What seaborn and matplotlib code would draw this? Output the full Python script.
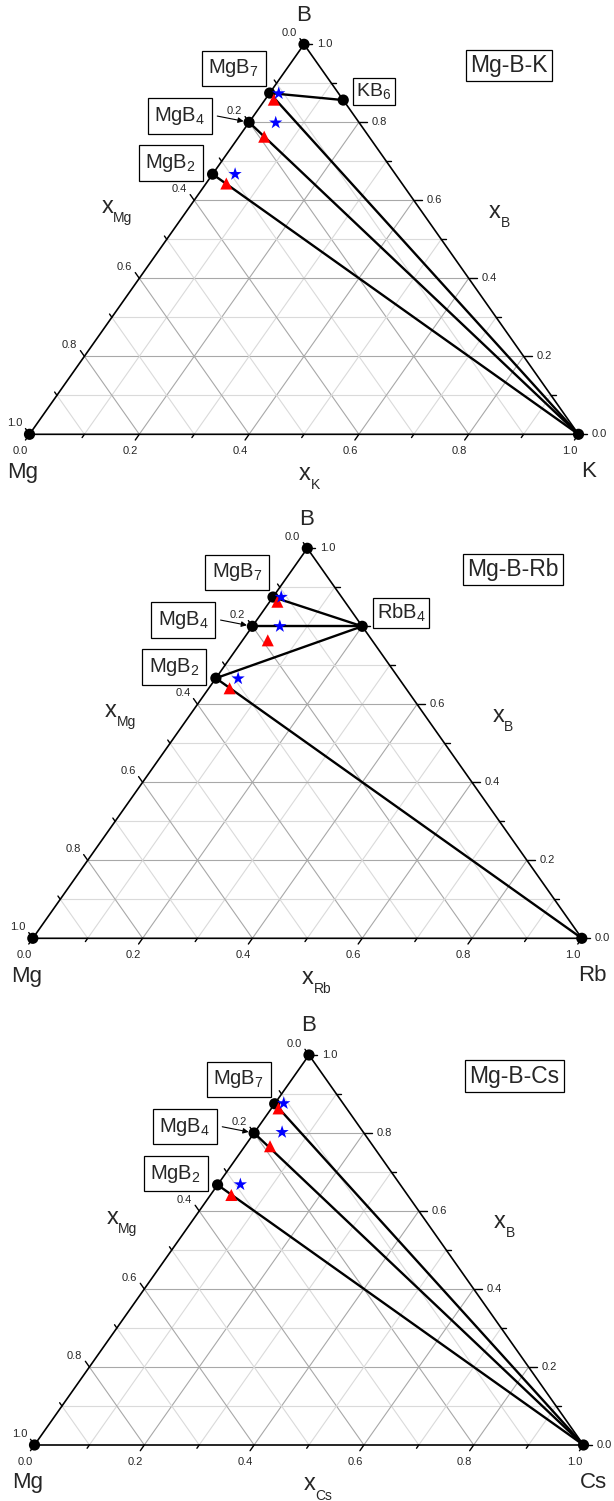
import numpy as np
import pandas as pd
import seaborn as sns
import matplotlib.pyplot as plt

sns.set_style('white')
plt.rcParams['font.family'] = ['Liberation Sans', 'DejaVu Sans']
plt.rcParams['mathtext.fontset'] = 'custom'
plt.rcParams['mathtext.rm'] = 'Liberation Sans'
plt.rcParams['mathtext.it'] = 'Liberation Sans:italic'
plt.rcParams['mathtext.bf'] = 'Liberation Sans:bold'

# compositions are (x_B, x_alkali); x_Mg = 1 - x_B - x_alkali
metals = ['K', 'Rb', 'Cs']
mgb_names = ['MgB7', 'MgB4', 'MgB2']
mgb_labels = ['MgB$_7$', 'MgB$_4$', 'MgB$_2$']
mgb_xb = [0.875, 0.800, 0.667]

alk_names = {'K': 'KB6', 'Rb': 'RbB4'}
alk_labels = {'K': 'KB$_6$', 'Rb': 'RbB$_4$'}
alk_xb = {'K': 0.857, 'Rb': 0.800}
alk_xm = {'K': 0.143, 'Rb': 0.200}

# blue stars
star_xb_k = [0.874, 0.799, 0.667]
star_xm_k = [0.017, 0.049, 0.041]
star_xb_rb = [0.875, 0.800, 0.666]
star_xm_rb = [0.015, 0.050, 0.041]
star_xb_cs = [0.876, 0.802, 0.668]
star_xm_cs = [0.016, 0.050, 0.041]

# red triangles
tri_xb_k = [0.858, 0.763, 0.643]
tri_xm_k = [0.016, 0.046, 0.037]
tri_xb_rb = [0.863, 0.764, 0.641]
tri_xm_rb = [0.014, 0.046, 0.038]
tri_xb_cs = [0.863, 0.766, 0.641]
tri_xm_cs = [0.013, 0.046, 0.038]

stars = {'K': (star_xb_k, star_xm_k), 'Rb': (star_xb_rb, star_xm_rb), 'Cs': (star_xb_cs, star_xm_cs)}
tris = {'K': (tri_xb_k, tri_xm_k), 'Rb': (tri_xb_rb, tri_xm_rb), 'Cs': (tri_xb_cs, tri_xm_cs)}

tie_lines = {
    'K': [('MgB7', 'KB6'), ('MgB7', 'K'), ('MgB4', 'K'), ('MgB2', 'K')],
    'Rb': [('MgB7', 'RbB4'), ('MgB4', 'RbB4'), ('MgB2', 'RbB4'), ('MgB2', 'Rb')],
    'Cs': [('MgB7', 'Cs'), ('MgB4', 'Cs'), ('MgB2', 'Cs')],
}

tick_vals = np.round(np.arange(0, 1.01, 0.1), 1)

W, H = 614, 1501
TW, TH = 549.0, 390.0
# triangle placement in pixels: left edge x, bottom y (from top)
panel_pos = [(29.5, 434.3), (32.8, 938.3), (34.5, 1445.0)]


def xy(xb, xm):
    return xm + xb / 2.0, xb


def px(dx, dy):
    # pixel offset -> data offset
    return dx / TW, dy / TH


def axis_title(ax, x, y, sub):
    ax.text(x, y, 'x', fontsize=17, ha='center', va='center')
    ax.annotate(sub, xy=(x, y), xytext=(4.2, -8), textcoords='offset points',
                fontsize=10, ha='left', va='center', annotation_clip=False)


fig = plt.figure(figsize=(W / 100, H / 100), dpi=100)

for metal, (left, bottom) in zip(metals, panel_pos):
    ax = fig.add_axes([left / W, (H - bottom) / H, TW / W, TH / H])
    ax.set_xlim(0, 1)
    ax.set_ylim(0, 1)
    ax.axis('off')

    # grid
    for v in tick_vals[1:-1]:
        major = round(v * 10) % 2 == 0
        c = '#a8a8a8' if major else '#dadada'
        kw = dict(color=c, lw=0.8, zorder=1)
        ax.plot([v / 2, 1 - v / 2], [v, v], **kw)
        ax.plot([v, v + (1 - v) / 2], [0, 1 - v], **kw)
        ax.plot([1 - v, (1 - v) / 2], [0, 1 - v], **kw)

    ax.plot([0, 1, 0.5, 0], [0, 0, 1, 0], color='black', lw=1.2, zorder=3,
            clip_on=False, solid_joinstyle='miter')

    # ticks and tick labels
    dl = np.array([-0.5757, -0.8178])
    ul = np.array([-0.5757, 0.8178])
    for v in tick_vals:
        major = round(v * 10) % 2 == 0
        L = 7 if major else 4
        # bottom axis (alkali)
        bx, by = v, 0
        ox, oy = px(*(dl * L))
        ax.plot([bx, bx + ox], [by, by + oy], color='black', lw=1.0, clip_on=False, zorder=3)
        # left axis (Mg)
        lx, ly = (1 - v) / 2, 1 - v
        ox, oy = px(*(ul * L))
        ax.plot([lx, lx + ox], [ly, ly + oy], color='black', lw=1.0, clip_on=False, zorder=3)
        # right axis (B)
        rx, ry = 1 - v / 2, v
        ox, oy = px(L + 1, 0)
        ax.plot([rx, rx + ox], [ry, ry + oy], color='black', lw=1.0, clip_on=False, zorder=3)
        if major:
            s = f'{v:.1f}'
            ox, oy = px(-9, -17)
            ax.text(bx + ox, by + oy, s, fontsize=8, ha='center', va='center')
            ox, oy = px(-7, 11)
            ax.text(lx + ox, ly + oy, s, fontsize=8, ha='right', va='center')
            ox, oy = px(13, 0)
            ax.text(rx + ox, ry + oy, s, fontsize=8, ha='left', va='center', zorder=2)

    # vertex and axis labels
    ax.text(-0.012, -0.097, 'Mg', fontsize=16, ha='center', va='center')
    ax.text(1.019, -0.096, metal, fontsize=16, ha='center', va='center')
    ax.text(0.499, 1.075, 'B', fontsize=16, ha='center', va='center')
    axis_title(ax, 0.142, 0.582, 'Mg')
    axis_title(ax, 0.848, 0.571, 'B')
    axis_title(ax, 0.501, -0.101, metal)

    # phase positions
    pts = {'Mg': xy(0, 0), metal: xy(0, 1), 'B': xy(1, 0)}
    for n, b in zip(mgb_names, mgb_xb):
        pts[n] = xy(b, 0)
    if metal in alk_names:
        pts[alk_names[metal]] = xy(alk_xb[metal], alk_xm[metal])

    for a, b in tie_lines[metal]:
        ax.plot([pts[a][0], pts[b][0]], [pts[a][1], pts[b][1]], color='black',
                lw=1.7, zorder=4, clip_on=False)

    sxb, sxm = stars[metal]
    txb, txm = tris[metal]
    rows = [(p[0], p[1], 'phase') for p in pts.values()]
    rows += [(*xy(b, m), 'tri') for b, m in zip(txb, txm)]
    rows += [(*xy(b, m), 'star') for b, m in zip(sxb, sxm)]
    df = pd.DataFrame(rows, columns=['x', 'y', 'kind'])
    sns.scatterplot(data=df, x='x', y='y', hue='kind', style='kind', size='kind', ax=ax,
                    palette={'phase': 'black', 'tri': 'red', 'star': 'blue'},
                    markers={'phase': 'o', 'tri': '^', 'star': '*'},
                    sizes={'phase': 65, 'tri': 75, 'star': 100},
                    linewidth=0, legend=False, zorder=5, clip_on=False)
    ax.set_xlim(0, 1)
    ax.set_ylim(0, 1)
    ax.axis('off')

    # labels with boxes
    box_mg = dict(boxstyle='square,pad=0.33', fc='white', ec='black', lw=0.9)
    ax.text(0.372, 0.938, mgb_labels[0], fontsize=14.5, ha='center', va='center', bbox=box_mg, zorder=6)
    ax.text(0.274, 0.816, mgb_labels[1], fontsize=14.5, ha='center', va='center', bbox=box_mg, zorder=6)
    ax.text(0.257, 0.696, mgb_labels[2], fontsize=14.5, ha='center', va='center', bbox=box_mg, zorder=6)
    ax.annotate('', xy=pts['MgB4'], xytext=(0.342, 0.816),
                arrowprops=dict(arrowstyle='-|>', color='black', lw=0.8,
                                shrinkA=0, shrinkB=4, mutation_scale=8))
    if metal == 'K':
        ax.text(0.6275, 0.879, alk_labels[metal], fontsize=14, ha='center', va='center',
                bbox=dict(boxstyle='square,pad=0.18', fc='white', ec='black', lw=0.9), zorder=6)
    elif metal == 'Rb':
        ax.text(0.671, 0.834, alk_labels[metal], fontsize=14.5, ha='center', va='center',
                bbox=dict(boxstyle='square,pad=0.18', fc='white', ec='black', lw=0.9), zorder=6)

    ax.text(0.874, 0.946, f'Mg-B-{metal}', fontsize=16.5, ha='center', va='center',
            bbox=dict(boxstyle='square,pad=0.18', fc='white', ec='black', lw=0.9), zorder=6)

fig.savefig('out.png', dpi=100)
